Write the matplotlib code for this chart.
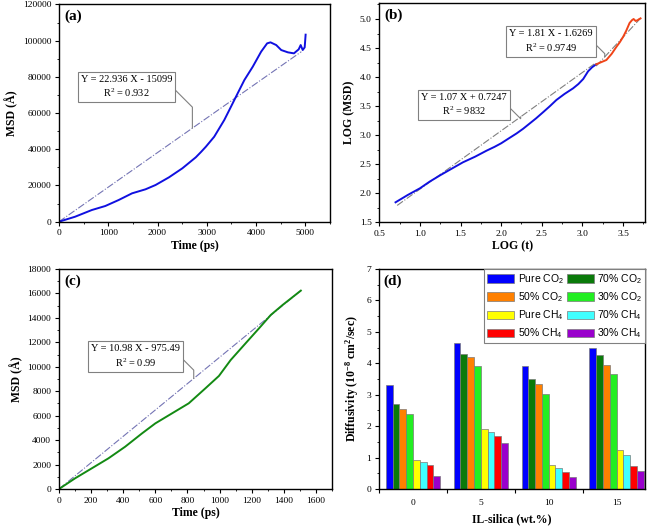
import numpy as np
import matplotlib
matplotlib.use("Agg")
import matplotlib.pyplot as plt
from matplotlib.ticker import MultipleLocator, FixedLocator

plt.rcParams['font.family'] = ['Liberation Serif', 'DejaVu Serif']
plt.rcParams['mathtext.fontset'] = 'custom'
plt.rcParams['mathtext.rm'] = 'Liberation Serif'
plt.rcParams['mathtext.bf'] = 'Liberation Serif:bold'
plt.rcParams['mathtext.sf'] = 'Liberation Sans'
plt.rcParams['mathtext.default'] = 'rm'

# (a) MSD vs time, 5000 ps run
t_a = [0, 327, 667, 939, 1211, 1483, 1755, 1959, 2231, 2503, 2776, 2878, 2980, 3150,
       3354, 3490, 3626, 3762, 3932, 4102, 4224, 4292, 4408, 4510, 4646, 4768, 4864,
       4905, 4946, 4986, 5005]
msd_a = [0, 2760, 6460, 8670, 11980, 15680, 17890, 20260, 24500, 29480, 35560, 38400,
         41400, 46940, 56160, 63500, 70900, 78240, 85600, 93900, 98500, 99060, 97570,
         94810, 93530, 92980, 95190, 97570, 94810, 96300, 103300]
fit_a_x = [0, 4918]
fit_a_y = [0, 93900]

# (b) log-log
logt_1 = [0.70, 0.85, 1.0, 1.12, 1.25, 1.40, 1.53, 1.68, 1.82, 1.92, 2.0, 2.10, 2.19,
          2.27, 2.35, 2.43, 2.52, 2.60, 2.68, 2.78, 2.885, 2.95, 3.01, 3.07, 3.12, 3.17]
logmsd_1 = [1.844, 1.97, 2.085, 2.20, 2.31, 2.43, 2.533, 2.63, 2.733, 2.80, 2.86, 2.95,
            3.03, 3.11, 3.20, 3.29, 3.40, 3.50, 3.606, 3.71, 3.806, 3.88, 3.967, 4.10,
            4.17, 4.22]
logt_2 = [3.17, 3.22, 3.295, 3.36, 3.418, 3.46, 3.50, 3.54, 3.58, 3.61, 3.63, 3.655,
          3.68, 3.70, 3.715]
logmsd_2 = [4.22, 4.25, 4.294, 4.40, 4.52, 4.60, 4.69, 4.80, 4.93, 4.98, 5.0, 4.966,
            4.98, 5.0, 5.01]
fit_b1_x = [0.72, 3.15]
fit_b1_y = [1.79, 4.23]
fit_b2_x = [3.17, 3.72]
fit_b2_y = [4.19, 5.02]

# (c) MSD vs time, 1500 ps run
t_c = [0, 100, 204, 308, 412, 517, 600, 704, 808, 912, 996, 1069, 1162, 1246, 1319,
       1392, 1506]
msd_c = [0, 873, 1690, 2510, 3460, 4550, 5370, 6190, 7010, 8240, 9250, 10550, 11920,
         13150, 14240, 15050, 16230]
fit_c_x = [0, 1506]
fit_c_y = [0, 16230]

# (d) diffusivity bars
loadings = ['0', '5', '10', '15']
series = ['Pure CO$_\\mathsf{2}$', '70% CO$_\\mathsf{2}$', '50% CO$_\\mathsf{2}$', '30% CO$_\\mathsf{2}$',
          'Pure CH$_\\mathsf{4}$', '70% CH$_\\mathsf{4}$', '50% CH$_\\mathsf{4}$', '30% CH$_\\mathsf{4}$']
pure_co2 = [3.30, 4.63, 3.92, 4.49]
co2_70 = [2.71, 4.31, 3.50, 4.25]
co2_50 = [2.56, 4.19, 3.35, 3.94]
co2_30 = [2.40, 3.90, 3.03, 3.67]
pure_ch4 = [0.91, 1.92, 0.76, 1.24]
ch4_70 = [0.85, 1.80, 0.66, 1.07]
ch4_50 = [0.76, 1.68, 0.53, 0.72]
ch4_30 = [0.42, 1.45, 0.38, 0.56]
bar_colors = ['#0000ff', '#0a7a0a', '#ff8000', '#22ee22', '#ffff00', '#40ffff', '#ff0000', '#9900cc']

fig = plt.figure(figsize=(6.57, 5.27), dpi=100)
ax_a = fig.add_axes([0.0898, 0.5793, 0.4125, 0.4123])
ax_b = fig.add_axes([0.5773, 0.5782, 0.4044, 0.4155])
ax_c = fig.add_axes([0.0898, 0.0721, 0.4155, 0.4175])
ax_d = fig.add_axes([0.5769, 0.0721, 0.4049, 0.4175])

fit_style = dict(color='#7474b4', lw=0.8, ls='-.')
lab = dict(fontsize=8.5, fontweight='bold')


def style(ax, letter):
    for s in ax.spines.values():
        s.set_linewidth(1.0)
    ax.tick_params(which='both', direction='out', labelsize=6.8, top=False, right=False)
    ax.tick_params(which='major', length=3, width=0.8, pad=2.5)
    ax.tick_params(which='minor', length=1.6, width=0.6)
    ax.text(0.018, 0.975, letter, transform=ax.transAxes, fontsize=11,
            fontweight='bold', va='top', ha='left')


def eq_box(ax, text, pos, target):
    ax.annotate(text, xy=target, xycoords='data', xytext=pos, textcoords='axes fraction',
                ha='center', va='center', fontsize=7.5, linespacing=1.3,
                bbox=dict(boxstyle='square,pad=0.3', fc='white', ec='#808080', lw=0.8),
                arrowprops=dict(arrowstyle='-', color='#808080', lw=0.8, relpos=(1.0, 0.5),
                                shrinkA=0, shrinkB=0,
                                connectionstyle='angle,angleA=-45,angleB=90,rad=0'))


# (a)
ax_a.plot(fit_a_x, fit_a_y, **fit_style)
ax_a.plot(t_a, msd_a, color='#1010e0', lw=1.4)
ax_a.set_xlim(0, 5500)
ax_a.set_ylim(0, 120000)
ax_a.xaxis.set_major_locator(MultipleLocator(1000))
ax_a.xaxis.set_minor_locator(MultipleLocator(500))
ax_a.yaxis.set_major_locator(MultipleLocator(20000))
ax_a.yaxis.set_minor_locator(MultipleLocator(10000))
ax_a.set_xlabel('Time (ps)', labelpad=2, **lab)
ax_a.set_ylabel('MSD (Å)', labelpad=3, **lab)
style(ax_a, '(a)')
xa = 2707
eq_box(ax_a, 'Y = 22.936 X - 15099\nR$^2$ = 0.932', (0.249, 0.62),
       (xa, np.interp(xa, fit_a_x, fit_a_y)))

# (b)
ax_b.plot(fit_b1_x, fit_b1_y, color='#808080', lw=0.8, ls='-.')
ax_b.plot(fit_b2_x, fit_b2_y, color='#808080', lw=0.8, ls='-.')
ax_b.plot(logt_1, logmsd_1, color='#1010e0', lw=1.4)
ax_b.plot(logt_2, logmsd_2, color='#f04418', lw=1.4)
ax_b.set_xlim(0.5, 3.77)
ax_b.set_ylim(1.5, 5.27)
ax_b.xaxis.set_major_locator(MultipleLocator(0.5))
ax_b.xaxis.set_minor_locator(MultipleLocator(0.25))
ax_b.yaxis.set_major_locator(MultipleLocator(0.5))
ax_b.yaxis.set_minor_locator(MultipleLocator(0.25))
ax_b.set_xlabel('LOG (t)', labelpad=2, **lab)
ax_b.set_ylabel('LOG (MSD)', labelpad=3, **lab)
style(ax_b, '(b)')
xb1 = 2.24
eq_box(ax_b, 'Y = 1.07 X + 0.7247\nR$^2$ = 9832', (0.319, 0.536),
       (xb1, np.interp(xb1, fit_b1_x, fit_b1_y)))
xb2 = 3.275
eq_box(ax_b, 'Y = 1.81 X - 1.6269\nR$^2$ = 0.9749', (0.646, 0.825),
       (xb2, np.interp(xb2, fit_b2_x, fit_b2_y)))

# (c)
ax_c.plot(fit_c_x, fit_c_y, **fit_style)
ax_c.plot(t_c, msd_c, color='#138a13', lw=1.4)
ax_c.set_xlim(0, 1700)
ax_c.set_ylim(0, 18000)
ax_c.xaxis.set_major_locator(MultipleLocator(200))
ax_c.xaxis.set_minor_locator(MultipleLocator(100))
ax_c.yaxis.set_major_locator(MultipleLocator(2000))
ax_c.yaxis.set_minor_locator(MultipleLocator(1000))
ax_c.set_xlabel('Time (ps)', labelpad=2, **lab)
ax_c.set_ylabel('MSD (Å)', labelpad=3, **lab)
style(ax_c, '(c)')
xc = 839
eq_box(ax_c, 'Y = 10.98 X - 975.49\nR$^2$ = 0.99', (0.280, 0.603),
       (xc, np.interp(xc, fit_c_x, fit_c_y)))

# (d)
vals = [pure_co2, co2_70, co2_50, co2_30, pure_ch4, ch4_70, ch4_50, ch4_30]
pos = np.arange(len(loadings))
w = 0.1
handles = []
for i, v in enumerate(vals):
    b = ax_d.bar(pos + (i - 3.5) * w, v, w, color=bar_colors[i], edgecolor='#7a7a7a',
                 lw=0.5, label=series[i])
    handles.append(b)
ax_d.set_xlim(-0.5, 3.42)
ax_d.set_ylim(0, 7)
ax_d.set_xticks(pos)
ax_d.set_xticklabels(loadings)
ax_d.xaxis.set_minor_locator(FixedLocator([-0.5, 0.5, 1.5, 2.5]))
ax_d.yaxis.set_major_locator(MultipleLocator(1))
ax_d.yaxis.set_minor_locator(MultipleLocator(0.5))
ax_d.set_ylabel('Diffusivity (10$^{\\mathbf{-8}}$ cm$^{\\mathbf{2}}$/sec)', labelpad=4, **lab)
style(ax_d, '(d)')
ax_d.tick_params(axis='x', which='major', length=0, pad=7)
ax_d.tick_params(axis='x', which='minor', length=3, width=0.8)
ax_d.set_xlabel('IL-silica (wt.%)', labelpad=5, **lab)
order = [0, 2, 4, 6, 1, 3, 5, 7]
leg = ax_d.legend([handles[k] for k in order], [series[k] for k in order], ncol=2,
                  loc='upper right', borderaxespad=0, fancybox=False, framealpha=1,
                  edgecolor='#808080', prop={'family': 'Liberation Sans', 'size': 7.5},
                  handlelength=2.6, handleheight=0.9, handletextpad=0.3,
                  columnspacing=0.3, labelspacing=0.45, borderpad=0.3)
leg.get_frame().set_linewidth(0.8)

fig.savefig('out.png', dpi=100)
